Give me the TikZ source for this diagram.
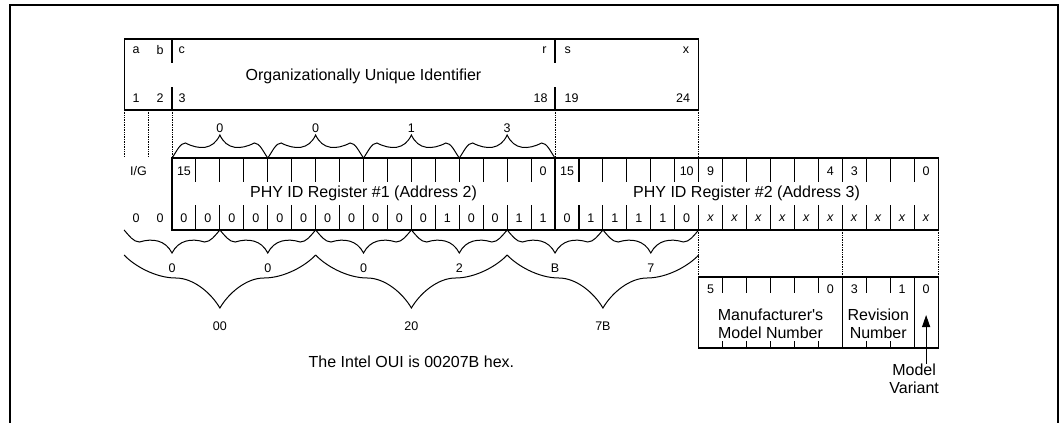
\documentclass[tikz,border=0pt]{standalone}
\usepackage{fontspec}
\setmainfont{Liberation Sans}
\usetikzlibrary{calc}
\usetikzlibrary{arrows.meta}

\newcommand{\wavebrace}[8]{%
  \pgfmathsetmacro{\bw}{(#2)-(#1)}%
  \pgfmathsetmacro{\bc}{(#1)+0.5*\bw}%
  \pgfmathsetmacro{\pa}{#6*\bw}%
  \pgfmathsetmacro{\pb}{(#6+(0.5-#6)*0.4)*\bw}%
  \pgfmathsetmacro{\pc}{(0.5-(0.5-#6)*0.2)*\bw}%
  \draw[brace line] (#1,#3)
    .. controls ({#1+0.05*\bw},{#3+0.45*(#4)}) and ({#1+0.6*\pa},{#3+(#4)}) .. ({#1+\pa},{#3+(#4)})
    .. controls ({#1+\pb},{#3+(#7)}) and ({#1+\pc},{#3+(#8)}) .. (\bc,{#3+(#5)})
    .. controls ({#2-\pc},{#3+(#8)}) and ({#2-\pb},{#3+(#7)}) .. ({#2-\pa},{#3+(#4)})
    .. controls ({#2-0.6*\pa},{#3+(#4)}) and ({#2-0.05*\bw},{#3+0.45*(#4)}) .. (#2,#3);%
}

\begin{document}
\begin{tikzpicture}[x=1pt, y=-1pt, line width=1.1pt,
  small/.style={font=\fontsize{12.5}{14}\selectfont, inner sep=0pt},
  large/.style={font=\fontsize{16}{18}\selectfont, inner sep=0pt, align=center},
  guide/.style={line width=0.7pt, densely dotted},
  brace line/.style={line width=1pt},
  rim/.style={line width=2.6pt}]
\def\cw{23.94}
\def\ox{124.12}
\pgfmathsetmacro{\rx}{\ox+2*\cw}
\pgfmathsetmacro{\sx}{\rx+16*\cw}
\pgfmathsetmacro{\ex}{\sx+16*\cw}
\pgfmathsetmacro{\ux}{\ox+24*\cw}
\pgfmathsetmacro{\mx}{\ux+6*\cw}
\pgfmathsetmacro{\vx}{\ux+9*\cw}

\useasboundingbox (0,0) rectangle (1063,423);
\draw[rim] (10,423) -- (10,5) -- (1058,5) -- (1058,423);

\draw (\ox,39) rectangle (\ux,110);
\draw (\rx,39) -- (\rx,63) (\rx,87) -- (\rx,110);
\draw (\sx,39) -- (\sx,63) (\sx,87) -- (\sx,110);
\node[small] (la) at ({\ox+0.5*\cw},50) {a};
\node[small] (lb) at ({\ox+1.5*\cw},50) {b};
\node[small, anchor=west] (lc) at ({\rx+6},50) {c};
\node[small, anchor=east] (lr) at ({\sx-8},50) {r};
\node[small, anchor=west] (ls) at ({\sx+9},50) {s};
\node[small, anchor=east] (lx) at ({\ux-9},50) {x};
\node[small] (l1) at ({\ox+0.5*\cw},98) {1};
\node[small] (l2) at ({\ox+1.5*\cw},98) {2};
\node[small, anchor=west] (l3) at ({\rx+6},98) {3};
\node[small, anchor=east] (l18) at ({\sx-7},98) {18};
\node[small, anchor=west] (l19) at ({\sx+9},98) {19};
\node[small, anchor=east] (l24) at ({\ux-8},98) {24};
\node[large] (oui) at ({(\rx+\sx)/2},76) {Organizationally Unique Identifier};

\draw[guide] (\ox,110) -- (\ox,156) ({\ox+\cw},110) -- ({\ox+\cw},156)
  (\rx,110) -- (\rx,158) (\sx,110) -- (\sx,158) (\ux,110) -- (\ux,158)
  (\ux,230) -- (\ux,277) (\mx,230) -- (\mx,277) (\ex,230) -- (\ex,277);

\draw (\rx,158) rectangle (\ex,230);
\draw (\sx,158) -- (\sx,230);
\foreach \i in {1,...,31}
  \draw ({\rx+\i*\cw},158) -- ++(0,24) ({\rx+\i*\cw},230) -- ++(0,-25);
\foreach \i/\t in {0/15,15/0,16/15,21/10,22/9,27/4,28/3,31/0}
  \node[small] (n\i) at ({\rx+(\i+0.5)*\cw},171) {\t};
\foreach \b [count=\i from 0] in {0,0,0,0,0,0,0,0,0,0,0,1,0,0,1,1,0,1,1,1,1,0,
    \textit{x},\textit{x},\textit{x},\textit{x},\textit{x},\textit{x},\textit{x},\textit{x},\textit{x},\textit{x}}
  \node[small] (b\i) at ({\rx+(\i+0.5)*\cw},218) {\b};
\node[large] (reg1) at ({(\rx+\sx)/2},193) {PHY ID Register \#1 (Address 2)};
\node[large] (reg2) at ({(\sx+\ex)/2},193) {PHY ID Register \#2 (Address 3)};
\node[small] (ig) at ({\ox+0.6*\cw},171) {I/G};
\node[small] (g1) at ({\ox+0.5*\cw},218) {0};
\node[small] (g2) at ({\ox+1.5*\cw},218) {0};

\foreach \k/\lab in {0/0,1/0,2/1,3/3} {
  \pgfmathsetmacro{\xa}{\rx+4*\k*\cw}
  \pgfmathsetmacro{\xb}{\xa+4*\cw}
  \wavebrace{\xa}{\xb}{158}{-15}{-23}{0.14}{-8}{-8}
  \node[small] (up\k) at ({(\xa+\xb)/2},128) {\lab};
}
\foreach \k/\lab in {0/0,1/0,2/0,3/2,4/B,5/7} {
  \pgfmathsetmacro{\xa}{\ox+4*\k*\cw}
  \pgfmathsetmacro{\xb}{\xa+4*\cw}
  \wavebrace{\xa}{\xb}{230}{12}{23}{0.16}{8}{10}
  \node[small] (hx\k) at ({(\xa+\xb)/2},268) {\lab};
}
\foreach \k/\lab in {0/00,1/20,2/7B} {
  \pgfmathsetmacro{\xa}{\ox+8*\k*\cw}
  \pgfmathsetmacro{\xb}{\xa+8*\cw}
  \wavebrace{\xa}{\xb}{255}{23}{53}{0.27}{23}{38}
  \node[small] (by\k) at ({(\xa+\xb)/2},326) {\lab};
}
\node[large] (ouihex) at ({\ox+12*\cw},362) {The Intel OUI is 00207B hex.};

\draw (\ux,277) rectangle (\ex,348);
\draw (\mx,277) -- (\mx,348) (\vx,277) -- (\vx,348);
\foreach \i in {1,...,5,7,8}
  \draw ({\ux+\i*\cw},277) -- ++(0,16) ({\ux+\i*\cw},348) -- ++(0,-7);
\foreach \i/\t in {0/5,5/0,6/3,8/1,9/0}
  \node[small] (m\i) at ({\ux+(\i+0.5)*\cw},289) {\t};
\node[large] (mfr) at ({(\ux+\mx)/2},324) {Manufacturer\textquotesingle s\\Model Number};
\node[large] (rev) at ({(\mx+\vx)/2},324) {Revision\\Number};
\node[large] (var) at (\vx,379) {Model\\Variant};
\coordinate (vtip) at ({\vx+0.5*\cw},315);
\draw[-{Triangle[length=12pt,width=8pt]}] (var.north -| vtip) -- (vtip);
\end{tikzpicture}
\end{document}
